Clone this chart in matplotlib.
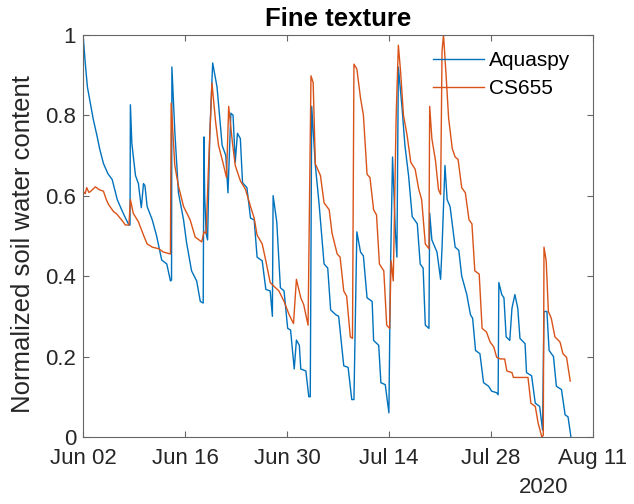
import matplotlib
matplotlib.use("Agg")
import matplotlib.pyplot as plt
import matplotlib.dates as mdates
import pandas as pd

# Aquaspy : jours depuis le 2 juin 2020 et valeurs normalisées
aq_jours = [0.0, 0.3, 0.6, 1.0, 1.4, 1.9, 2.3, 2.8, 3.4, 4.0, 4.7, 5.3, 5.8, 6.3, 6.45,
            6.5, 6.7, 7.2, 7.6, 8.0, 8.3, 8.5, 8.8, 9.5, 10.1, 10.8, 11.5, 12.0, 12.15,
            12.2, 12.6, 13.1, 13.8, 14.2, 14.9, 15.6, 16.1, 16.5, 16.6, 16.7, 16.9, 17.1,
            17.4, 17.8, 18.4, 19.1, 19.6, 19.9, 20.3, 20.6, 20.9, 21.2, 21.6, 21.9, 22.5,
            23.0, 23.5, 23.9, 24.6, 25.1, 25.7, 26.0, 26.1, 26.6, 27.1, 27.6, 28.1, 28.5,
            29.0, 29.3, 29.7, 29.9, 30.6, 31.0, 31.2, 31.4, 31.9, 32.4, 33.1, 33.6, 34.0,
            34.7, 35.1, 35.8, 36.4, 36.9, 37.2, 37.6, 38.1, 38.5, 39.0, 39.7, 39.9, 40.6,
            40.9, 41.5, 42.0, 42.2, 42.5, 42.9, 43.1, 43.3, 43.8, 44.2, 44.7, 45.2, 45.9,
            46.3, 46.7, 47.0, 47.5, 47.6, 47.9, 48.6, 49.1, 49.3, 49.7, 50.0, 50.4, 51.1,
            51.6, 52.0, 52.7, 53.2, 53.5, 53.9, 54.5, 55.0, 55.7, 56.1, 56.8, 57.0, 57.1,
            57.5, 57.8, 58.1, 58.6, 58.9, 59.3, 59.7, 60.0, 60.7, 60.9, 61.6, 62.1, 62.7,
            63.1, 63.3, 63.7, 64.0, 64.6, 65.0, 65.7, 66.2, 66.6, 67.0]
aq_vals = [1.0, 0.93, 0.87, 0.83, 0.79, 0.75, 0.715, 0.68, 0.655, 0.64, 0.59, 0.565, 0.545, 0.527, 0.527,
           0.826, 0.73, 0.65, 0.63, 0.57, 0.63, 0.625, 0.573, 0.54, 0.50, 0.44, 0.43, 0.388, 0.39,
           0.92, 0.76, 0.607, 0.54, 0.485, 0.413, 0.388, 0.337, 0.333, 0.746, 0.60, 0.506, 0.49,
           0.75, 0.93, 0.87, 0.725, 0.70, 0.607, 0.805, 0.80, 0.683, 0.755, 0.742, 0.632, 0.62,
           0.544, 0.54, 0.447, 0.438, 0.367, 0.363, 0.30, 0.60, 0.535, 0.371, 0.363, 0.27, 0.266,
           0.169, 0.241, 0.228, 0.169, 0.164, 0.10, 0.10, 0.822, 0.675, 0.582, 0.43, 0.42, 0.316,
           0.304, 0.30, 0.177, 0.173, 0.093, 0.093, 0.51, 0.46, 0.45, 0.346, 0.337, 0.24, 0.228,
           0.135, 0.13, 0.06, 0.396, 0.696, 0.506, 0.447, 0.92, 0.82, 0.725, 0.65, 0.548, 0.53,
           0.43, 0.42, 0.278, 0.27, 0.557, 0.49, 0.46, 0.392, 0.472, 0.675, 0.59, 0.573, 0.472,
           0.464, 0.40, 0.354, 0.304, 0.295, 0.215, 0.207, 0.135, 0.126, 0.114, 0.11, 0.105, 0.384,
           0.354, 0.346, 0.249, 0.24, 0.32, 0.354, 0.32, 0.245, 0.232, 0.16, 0.152, 0.084, 0.076,
           0.017, 0.312, 0.312, 0.215, 0.20, 0.126, 0.118, 0.055, 0.05, 0.0]

# CS655
cs_jours = [0.0, 0.3, 0.5, 0.8, 1.0, 1.3, 1.7, 2.2, 2.8, 3.2, 3.5, 4.2, 4.6, 5.1, 5.5, 5.8, 6.3,
            6.5, 6.9, 7.6, 8.3, 8.8, 9.5, 10.4, 11.0, 12.0, 12.1, 12.6, 13.1, 13.8, 14.7, 15.4,
            16.3, 16.6, 16.9, 17.2, 17.7, 18.2, 18.6, 19.2, 19.7, 20.0, 20.5, 20.9, 21.6, 22.3,
            23.0, 23.5, 23.9, 24.6, 25.1, 25.7, 26.2, 26.9, 27.6, 28.3, 28.9, 29.3, 29.9, 30.3,
            30.9, 31.3, 31.6, 31.9, 32.6, 33.1, 33.8, 34.2, 34.9, 35.3, 35.8, 36.2, 36.7, 37.0,
            37.2, 37.6, 38.1, 38.5, 39.0, 39.4, 39.9, 40.3, 40.7, 41.3, 41.7, 42.1, 42.3, 42.6,
            43.0, 43.3, 43.6, 44.0, 44.5, 45.0, 45.6, 46.1, 46.5, 47.0, 47.5, 47.6, 47.9, 48.4,
            48.8, 49.1, 49.3, 49.5, 49.9, 50.2, 50.7, 51.1, 51.5, 52.0, 52.5, 53.0, 53.4, 53.8,
            54.4, 54.8, 55.4, 55.9, 56.4, 56.8, 57.3, 57.9, 58.2, 58.9, 59.1, 61.1, 61.5, 62.1,
            62.5, 63.0, 63.2, 63.3, 63.6, 63.9, 64.3, 64.8, 65.5, 65.9, 66.4, 66.9]
cs_vals = [0.611, 0.605, 0.62, 0.608, 0.61, 0.615, 0.622, 0.615, 0.611, 0.59, 0.578, 0.56, 0.555, 0.544, 0.535, 0.527, 0.527,
           0.59, 0.556, 0.535, 0.502, 0.48, 0.472, 0.468, 0.46, 0.455, 0.83, 0.675, 0.624, 0.573, 0.54, 0.497,
           0.485, 0.51, 0.506, 0.658, 0.88, 0.784, 0.725, 0.683, 0.645, 0.822, 0.734, 0.675, 0.637, 0.616,
           0.573, 0.544, 0.502, 0.48, 0.438, 0.384, 0.375, 0.363, 0.337, 0.304, 0.282, 0.392, 0.346, 0.329,
           0.278, 0.898, 0.881, 0.679, 0.65, 0.582, 0.565, 0.506, 0.455, 0.447, 0.363, 0.35, 0.249, 0.245,
           0.927, 0.915, 0.843, 0.80, 0.653, 0.645, 0.565, 0.552, 0.43, 0.413, 0.278, 0.27, 0.438, 0.388,
           0.80, 0.974, 0.91, 0.80, 0.75, 0.683, 0.666, 0.616, 0.59, 0.48, 0.468, 0.822, 0.742, 0.687,
           0.616, 0.603, 0.96, 1.0, 0.885, 0.793, 0.717, 0.696, 0.69, 0.62, 0.607, 0.54, 0.53, 0.413,
           0.405, 0.27, 0.261, 0.236, 0.224, 0.198, 0.194, 0.194, 0.164, 0.16, 0.148, 0.148, 0.084, 0.076,
           0.034, 0.0, 0.004, 0.472, 0.438, 0.312, 0.295, 0.249, 0.236, 0.207, 0.198, 0.139]

debut = pd.Timestamp("2020-06-02")
aq_dates = debut + pd.to_timedelta(aq_jours, unit="D")
cs_dates = debut + pd.to_timedelta(cs_jours, unit="D")

ticks_x = pd.date_range("2020-06-02", "2020-08-11", freq="14D")
ticks_y = [0, 0.2, 0.4, 0.6, 0.8, 1]
labels_y = ["0", "0.2", "0.4", "0.6", "0.8", "1"]

plt.rcParams["font.family"] = ["Liberation Sans", "DejaVu Sans"]

fig = plt.figure(figsize=(6.34, 5.04), dpi=100)
ax = fig.add_axes([0.131, 0.133, 0.804, 0.798])

ax.plot(aq_dates, aq_vals, color="#0072BD", lw=1.0, label="Aquaspy")
ax.plot(cs_dates, cs_vals, color="#D95319", lw=1.0, label="CS655")

# axes façon matlab
ax.set_xlim(ticks_x[0], ticks_x[-1])
ax.set_ylim(0, 1)
ax.set_xticks(ticks_x)
ax.xaxis.set_major_formatter(mdates.DateFormatter("%b %d"))
ax.set_yticks(ticks_y)
ax.set_yticklabels(labels_y)
ax.tick_params(direction="in", top=True, right=True, length=4, width=0.8,
               color="#666666", labelsize=16, labelcolor="#262626")
ax.tick_params(axis="x", pad=8)
ax.tick_params(axis="y", pad=5)
for sp in ax.spines.values():
    sp.set_color("#666666")
    sp.set_linewidth(0.8)

ax.set_ylabel("Normalized soil water content", fontsize=18.5, color="#262626")
ax.yaxis.set_label_coords(-0.095, 0.48)
ax.set_title("Fine texture", fontsize=18.5, fontweight="bold", pad=6)

fig.text(0.858, 0.032, "2020", fontsize=16, color="#262626", ha="center", va="center")

ax.legend(loc="upper left", bbox_to_anchor=(0.686, 0.96), frameon=False, fontsize=15,
          borderpad=0, borderaxespad=0, handlelength=2.45, handletextpad=0.25,
          labelspacing=0.45)

plt.savefig("out.png", dpi=100)
